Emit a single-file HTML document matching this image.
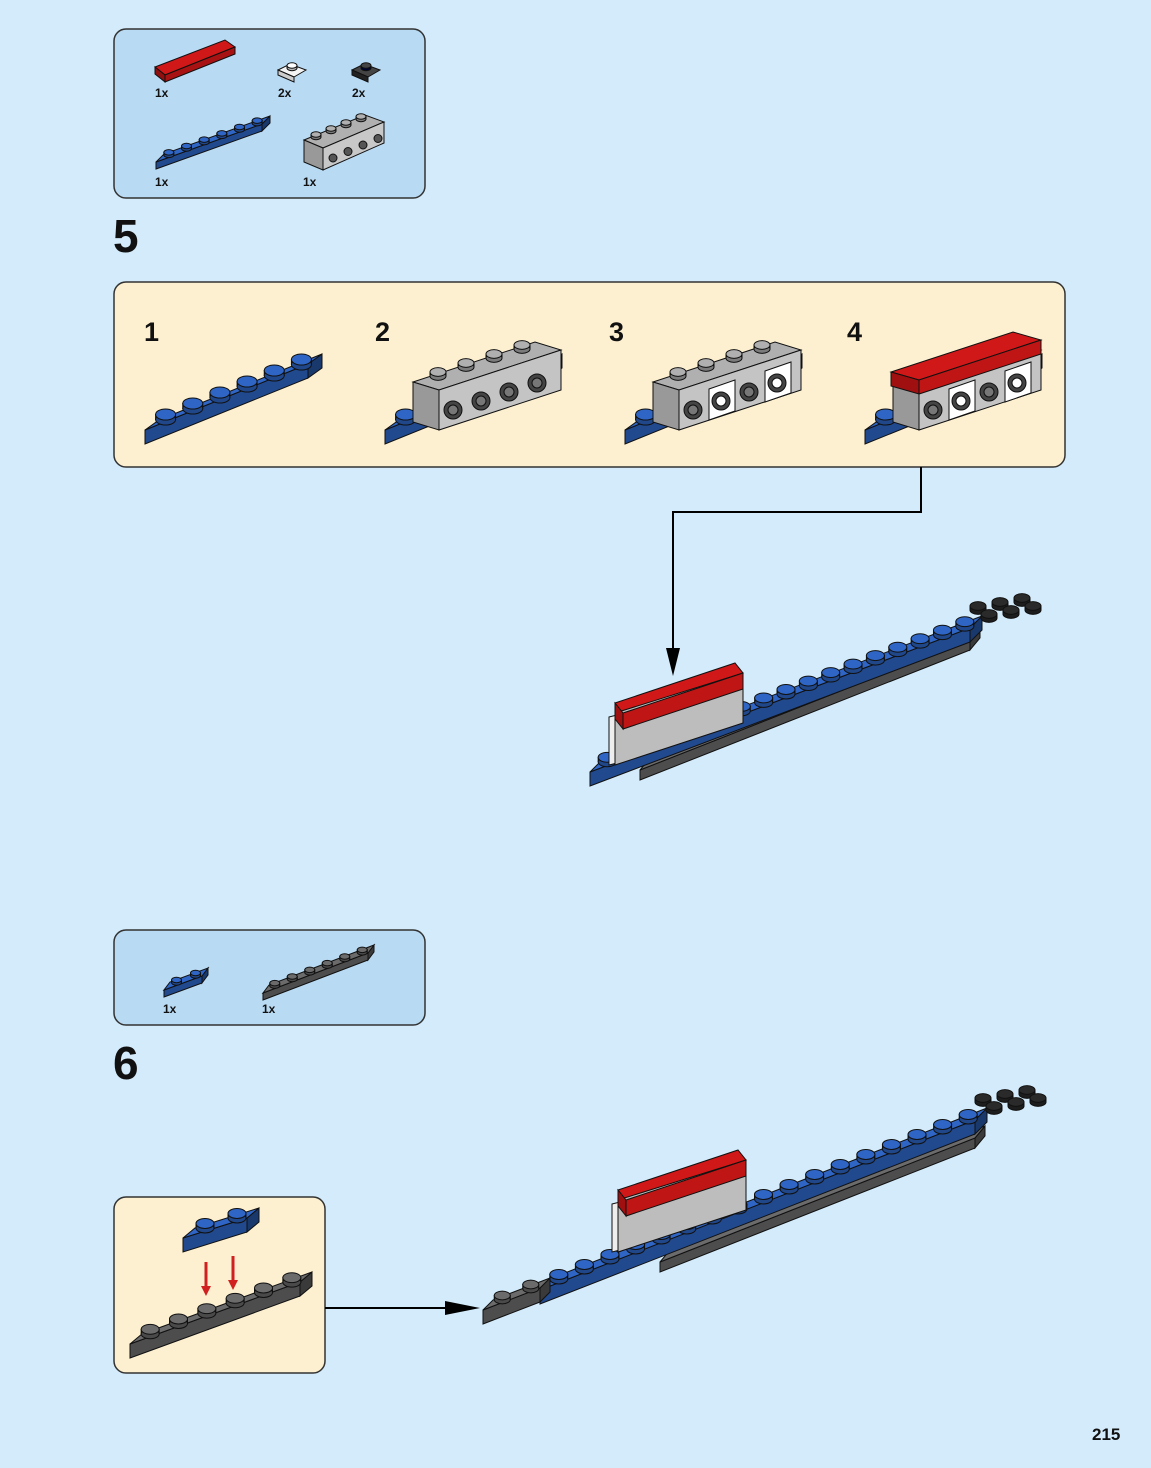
<!DOCTYPE html>
<html><head><meta charset="utf-8"><style>
html,body{margin:0;padding:0;background:#d3ebfa;}
svg{display:block}
text{font-family:"Liberation Sans",sans-serif;font-weight:bold;fill:#111}
</style></head><body>
<svg id="s" width="1151" height="1468" viewBox="0 0 1151 1468" xmlns="http://www.w3.org/2000/svg">
<rect width="1151" height="1468" fill="#d3ebfa"/>
<rect x="114" y="29" width="311" height="169" rx="12" fill="#b9daf3" stroke="#333" stroke-width="1.5"/>
<text x="155" y="97" font-size="12">1x</text>
<text x="278" y="97" font-size="12">2x</text>
<text x="352" y="97" font-size="12">2x</text>
<text x="155" y="186" font-size="12">1x</text>
<text x="303" y="186" font-size="12">1x</text>
<text x="113" y="252" font-size="46">5</text>
<rect x="114" y="282" width="951" height="185" rx="12" fill="#fdf0d0" stroke="#333" stroke-width="1.5"/>
<text x="144" y="341" font-size="27">1</text>
<text x="375" y="341" font-size="27">2</text>
<text x="609" y="341" font-size="27">3</text>
<text x="847" y="341" font-size="27">4</text>
<polyline points="921,467 921,512 673,512 673,660" fill="none" stroke="#000" stroke-width="2"/>
<polygon points="666,648 680,648 673,676" fill="#000"/>
<rect x="114" y="930" width="311" height="95" rx="12" fill="#b9daf3" stroke="#333" stroke-width="1.5"/>
<text x="163" y="1013" font-size="12">1x</text>
<text x="262" y="1013" font-size="12">1x</text>
<text x="113" y="1079" font-size="46">6</text>
<rect x="114" y="1197" width="211" height="176" rx="12" fill="#fdf0d0" stroke="#333" stroke-width="1.5"/>
<line x1="325" y1="1308" x2="455" y2="1308" stroke="#000" stroke-width="2"/>
<polygon points="445,1301 480,1308 445,1315" fill="#000"/>
<text x="1092" y="1440" font-size="17">215</text>
<g id="g"></g>
</svg>
<script>
var g=document.getElementById('g'),NS='http://www.w3.org/2000/svg';
function el(t,a){var e=document.createElementNS(NS,t);for(var k in a)e.setAttribute(k,a[k]);g.appendChild(e);return e;}
function P(a){return a.map(function(p){return p[0]+','+p[1]}).join(' ');}
function shade(c,f){var n=parseInt(c.slice(1),16),r=n>>16,gg=(n>>8)&255,b=n&255;r=Math.min(255,r*f|0);gg=Math.min(255,gg*f|0);b=Math.min(255,b*f|0);return 'rgb('+r+','+gg+','+b+')';}
function stud(x,y,c,r){r=r||9;var h=r*0.5;
 el('rect',{x:x-r,y:y-h,width:2*r,height:h,fill:shade(c,0.7),stroke:'#111','stroke-width':1});
 el('ellipse',{cx:x,cy:y,rx:r,ry:r*0.55,fill:shade(c,0.7),stroke:'#111','stroke-width':1});
 el('ellipse',{cx:x,cy:y-h,rx:r,ry:r*0.55,fill:c,stroke:'#111','stroke-width':1});}
function plate(x0,y0,x1,y1,n,c,t,d,sr,nostuds){d=d||[10,-12];t=t||12;
 var a=[x0,y0],b=[x1,y1],b2=[x1+d[0],y1+d[1]],a2=[x0+d[0],y0+d[1]];
 el('polygon',{points:P([a,b,[b[0],b[1]+t],[a[0],a[1]+t]]),fill:shade(c,0.72),stroke:'#111','stroke-width':1});
 el('polygon',{points:P([b,b2,[b2[0],b2[1]+t],[b[0],b[1]+t]]),fill:shade(c,0.55),stroke:'#111','stroke-width':1});
 el('polygon',{points:P([a,b,b2,a2]),fill:c,stroke:'#111','stroke-width':1});
 if(!nostuds){var dx=(x1-x0)/n,dy=(y1-y0)/n;
 for(var i=0;i<n;i++){stud(x0+dx*(i+.5)+d[0]/2,y0+dy*(i+.5)+d[1]/2,c,sr);}}}
function box(pts,c){el('polygon',{points:P(pts),fill:c,stroke:'#111','stroke-width':1});}
var BL='#2f66c6',GR='#b0b0b0',DG='#6b6b6b',RD='#d01818',BK='#2a2a2a';
box([[155,67],[225,40],[235,47],[165,75]],RD);box([[155,67],[165,75],[165,82],[155,74]],'#901010');box([[165,75],[235,47],[235,54],[165,82]],'#a81212');
box([[278,70],[290,64],[306,70],[294,77]],'#f4f4f4');stud(292,68,'#ffffff',5);box([[278,70],[294,77],[294,82],[278,75]],'#ccc');
box([[352,70],[364,64],[380,70],[368,77]],'#444');stud(366,68,'#444',5);box([[352,70],[368,77],[368,82],[352,75]],'#222');
plate(156,162,262,124,6,BL,7,[8,-8],5);
box([[304,140],[365,115],[384,122],[323,148]],GR);box([[304,140],[323,148],[323,170],[304,162]],'#999');box([[323,148],[384,122],[384,143],[323,170]],'#c8c8c8');
for(var i=0;i<4;i++){stud(316+i*15,137-i*6,GR,5);el('circle',{cx:333+i*15,cy:158-i*6.5,r:4,fill:'#555',stroke:'#111'});}
plate(164,990,202,976,2,BL,7,[6,-8],5);
plate(263,993,368,953,6,DG,7,[6,-8],5);
plate(145,430,308,364,6,BL,14,[14,-10],10);
function sub(ox,k){plate(ox+240,430,ox+403,364,6,BL,14,[14,-10],10);
 var x=ox+268,y=382;
 box([[x,y],[x+122,y-40],[x+148,y-32],[x+26,y+8]],GR);
 box([[x,y],[x+26,y+8],[x+26,y+48],[x,y+40]],'#999');
 box([[x+26,y+8],[x+148,y-32],[x+148,y+8],[x+26,y+48]],'#c4c4c4');
 for(var i=0;i<4;i++){stud(x+25+i*28,y-6-i*9,GR,8);}
 for(var i=0;i<4;i++){var cx=x+40+i*28,cy=y+28-i*9;
  if(k>=3&&i%2==1){box([[cx-12,cy-12],[cx+14,cy-21],[cx+14,cy+10],[cx-12,cy+19]],'#fff');}
  el('circle',{cx:cx,cy:cy,r:9,fill:'#444',stroke:'#111'});el('circle',{cx:cx,cy:cy,r:5,fill:(k>=3&&i%2==1)?'#fff':'#777',stroke:'#111'});}
 if(k==4){box([[x-2,y-10],[x+120,y-50],[x+148,y-42],[x+26,y-2]],RD);box([[x-2,y-10],[x+26,y-2],[x+26,y+12],[x-2,y+4]],'#a01010');box([[x+26,y-2],[x+148,y-42],[x+148,y-28],[x+26,y+12]],'#c01515');}
}
sub(145,2);sub(385,3);sub(625,4);
function main(x0,y0,x1,y1,bx,by,gx0,gy0,gx1,gy1){
 plate(gx0,gy0,gx1,gy1,10,DG,10,[10,-12],6,true);
 plate(x0,y0,x1,y1,17,BL,14,[12,-12],9);
 for(var i=0;i<6;i++)stud(x1+8+i*11,y1-18+(i%2)*10-i*2,BK,8);
 var x=bx,y=by;
 box([[x,y],[x+120,y-40],[x+128,y-30],[x+8,y+10]],RD);
 box([[x-6,y+14],[x+2,y+12],[x+2,y+60],[x-6,y+62]],'#eee');
 box([[x,y+10],[x+128,y-30],[x+128,y+20],[x,y+62]],'#bdbdbd');
 box([[x,y],[x+8,y+10],[x+8,y+26],[x,y+16]],'#a01010');
 box([[x+8,y+10],[x+128,y-30],[x+128,y-14],[x+8,y+26]],'#c01515');
}
main(590,772,970,628,615,703,640,770,970,640);
main(540,1290,975,1120,618,1190,660,1262,975,1138);
plate(483,1310,540,1288,2,DG,14,[10,-10],8);
plate(130,1344,300,1282,6,DG,14,[12,-10],9);
plate(183,1238,247,1218,2,BL,14,[12,-10],9);
[[206,1262],[233,1256]].forEach(function(p){el('line',{x1:p[0],y1:p[1],x2:p[0],y2:p[1]+28,stroke:'#d02020','stroke-width':3});el('polygon',{points:P([[p[0]-5,p[1]+24],[p[0]+5,p[1]+24],[p[0],p[1]+34]]),fill:'#d02020'});});
</script>
</body></html>
